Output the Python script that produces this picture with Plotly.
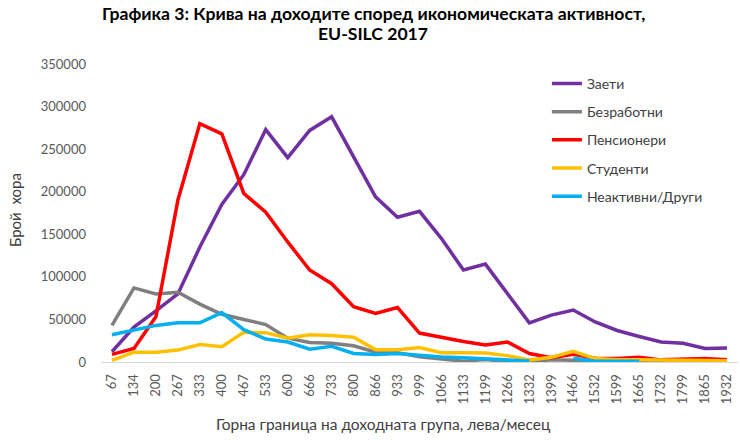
import plotly.graph_objects as go

# income group upper bounds (leva/month)
categories = ['67', '134', '200', '267', '333', '400', '467', '533', '600', '666',
              '733', '800', '866', '933', '999', '1066', '1133', '1199', '1266', '1332',
              '1399', '1466', '1532', '1599', '1665', '1732', '1799', '1865', '1932']

zaeti = [12000, 41000, 60000, 80000, 135000, 185000, 220000, 273000, 240000, 272000,
         288000, 241000, 194000, 170000, 177000, 145000, 108000, 115000, 80000, 46000,
         55000, 61000, 47000, 37000, 30000, 23500, 22000, 16000, 16500]
bezrabotni = [43000, 87000, 80000, 82000, 68000, 56000, 50000, 44000, 28000, 23000,
              22000, 19000, 11500, 11000, 6000, 3000, 1000, 3000, 500, 500,
              2500, 2000, 1000, 1000, 500, 500, 1000, 500, 500]
pensioneri = [9000, 16000, 53000, 190000, 280000, 268000, 198000, 176000, 141000, 108000,
              92000, 65000, 57000, 64000, 34000, 28500, 24000, 20000, 23500, 10000,
              5000, 9000, 4500, 4000, 5500, 2500, 3500, 4000, 2500]
studenti = [2000, 11500, 11500, 14000, 20500, 18000, 35000, 34500, 28000, 32000,
            31000, 29000, 14500, 14500, 17000, 11000, 11000, 10500, 7500, 2500,
            5500, 12500, 4000, 2500, 2500, 2000, 2000, 2000, 1500]
neaktivni = [32000, 37500, 43000, 46000, 46000, 58000, 38000, 27000, 23500, 15000,
             18400, 10000, 8800, 10000, 7500, 6000, 5000, 4000, 2700, 1200,
             None, 4500, 800, 800, 800, None, None, None, None]

title_lines = ['Графика 3: Крива на доходите според икономическата активност,',
               'EU-SILC 2017']

series = [
    ('Заети', zaeti, '#7030A0'),
    ('Безработни', bezrabotni, '#7F7F7F'),
    ('Пенсионери', pensioneri, '#FF0000'),
    ('Студенти', studenti, '#FFC000'),
    ('Неактивни/Други', neaktivni, '#00B0F0'),
]

fig = go.Figure()
for name, vals, color in series:
    fig.add_trace(go.Scatter(
        x=categories, y=vals, name=name, mode='lines',
        line=dict(color=color, width=3.5),
        legendgroup=name, hoverinfo='skip',
    ))

font = 'Lato, Open Sans, sans-serif'
L, R, T, B = 101, 2, 64, 78
plot_w, plot_h = 740 - L - R, 440 - T - B


def px(x, y):
    # pixel position on the page -> paper coordinates
    return (x - L) / plot_w, (440 - B - y) / plot_h


annots = []
for line, ypix in zip(title_lines, [14, 33]):
    ax, ay = px(373, ypix)
    annots.append(dict(text='<b>' + line + '</b>', x=ax, y=ay,
                       xref='paper', yref='paper', showarrow=False,
                       xanchor='center', yanchor='middle',
                       font=dict(size=17.6, color='#000000')))
ax, ay = px(383, 424)
annots.append(dict(text='Горна граница на доходната група, лева/месец',
                   x=ax, y=ay, xref='paper', yref='paper',
                   xanchor='center', yanchor='middle', showarrow=False,
                   font=dict(size=15.5, color='#404040')))
ax, ay = px(15, 210)
annots.append(dict(text='Брой  хора', textangle=-90,
                   x=ax, y=ay, xref='paper', yref='paper',
                   xanchor='center', yanchor='middle', showarrow=False,
                   font=dict(size=15, color='#404040')))

fig.update_layout(
    width=740, height=440,
    margin=dict(l=L, r=R, t=T, b=B),
    paper_bgcolor='white', plot_bgcolor='white',
    font=dict(family=font, color='#595959', size=13),
    xaxis=dict(
        type='category', range=[-0.5, 28.5],
        showgrid=False, zeroline=False,
        showline=True, linecolor='#D9D9D9', linewidth=1,
        tickangle=-90, ticks='', ticklabelstandoff=6,
        tickfont=dict(size=13, color='#595959'),
    ),
    yaxis=dict(
        range=[0, 350000], dtick=50000, tickformat='d',
        showgrid=False, zeroline=False, showline=False,
        ticks='', ticklabelstandoff=14,
        tickfont=dict(size=13, color='#595959'),
    ),
    legend=dict(
        x=0.70, y=0.987, xanchor='left', yanchor='top',
        bgcolor='rgba(0,0,0,0)',
        font=dict(size=14, color='#404040'),
        traceorder='grouped', tracegroupgap=7,
    ),
    annotations=annots,
    hovermode=False,
)

fig.write_html('out.html', config={'displayModeBar': False},
               post_script="document.body.style.margin='0';")
